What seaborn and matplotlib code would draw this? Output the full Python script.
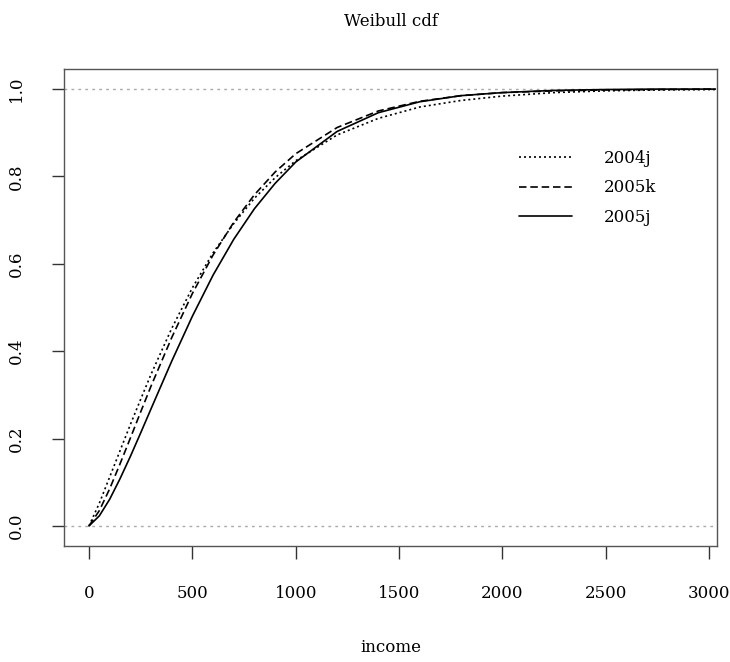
import numpy as np
import pandas as pd
import seaborn as sns
import matplotlib.pyplot as plt

# values (Weibull cdf of income)
income = [0, 50, 100, 150, 200, 250, 300, 400, 500, 600, 700, 800, 900, 1000,
          1200, 1400, 1600, 1800, 2000, 2250, 2500, 2750, 3030]
cdf_2004j = [0.0, 0.052, 0.112, 0.172, 0.232, 0.290, 0.347, 0.452, 0.545, 0.625,
             0.692, 0.750, 0.797, 0.836, 0.895, 0.933, 0.959, 0.974, 0.984,
             0.992, 0.996, 0.998, 0.999]
cdf_2005k = [0.0, 0.035, 0.085, 0.142, 0.201, 0.261, 0.320, 0.431, 0.532, 0.620,
             0.695, 0.758, 0.810, 0.852, 0.912, 0.950, 0.972, 0.985, 0.992,
             0.996, 0.998, 0.999, 1.0]
cdf_2005j = [0.0, 0.023, 0.061, 0.108, 0.159, 0.213, 0.268, 0.377, 0.480, 0.574,
             0.656, 0.726, 0.784, 0.833, 0.903, 0.946, 0.971, 0.985, 0.992,
             0.997, 0.999, 1.0, 1.0]
series = ["2004j", "2005k", "2005j"]
dash_styles = {"2004j": (1.2, 1.8), "2005k": (4.5, 2.3), "2005j": ""}

df = pd.DataFrame({
    "income": income * 3,
    "cdf": cdf_2004j + cdf_2005k + cdf_2005j,
    "year": [s for s in series for _ in income],
})

sns.set_style("white")
plt.rcParams["font.family"] = ["DejaVu Serif"]
plt.rcParams["text.color"] = "black"
plt.rcParams["xtick.color"] = "black"
plt.rcParams["ytick.color"] = "black"
plt.rcParams["axes.labelcolor"] = "black"

fig = plt.figure(figsize=(7.3, 6.62), dpi=100)
ax = fig.add_axes([64 / 730, 116 / 662, 653 / 730, 477 / 662])

ax.axhline(0, color="#aaaaaa", lw=1, ls=(0, (2, 3)))
ax.axhline(1, color="#aaaaaa", lw=1, ls=(0, (2, 3)))

sns.lineplot(data=df, x="income", y="cdf", hue="year", style="year",
             palette=["black"] * 3, dashes=dash_styles, lw=1.2, ax=ax)

ax.set_xlim(-121, 3038)
ax.set_ylim(-0.046, 1.046)
ax.set_xticks([0, 500, 1000, 1500, 2000, 2500, 3000])
ax.set_yticks([0.0, 0.2, 0.4, 0.6, 0.8, 1.0])
ax.set_yticklabels(["0.0", "0.2", "0.4", "0.6", "0.8", "1.0"], rotation=90, va="center")
ax.tick_params(axis="both", length=9, width=1, color="#333333", direction="out",
               labelsize=12, pad=19, bottom=True, left=True, labelcolor="black")
for sp in ax.spines.values():
    sp.set_color("#555555")
    sp.set_linewidth(1)

ax.set_xlabel("income", fontsize=12, labelpad=27)
ax.set_ylabel("")
ax.set_title("Weibull cdf", fontsize=12, pad=31)

handles, labels = ax.get_legend_handles_labels()
ax.legend(handles, labels, frameon=False, loc="upper left",
          bbox_to_anchor=(519 / 730, 1 - 150 / 662), bbox_transform=fig.transFigure,
          borderpad=0, borderaxespad=0, handlelength=3.2, handletextpad=1.9,
          labelspacing=0.75, fontsize=12)

fig.savefig("out.png", dpi=100)
